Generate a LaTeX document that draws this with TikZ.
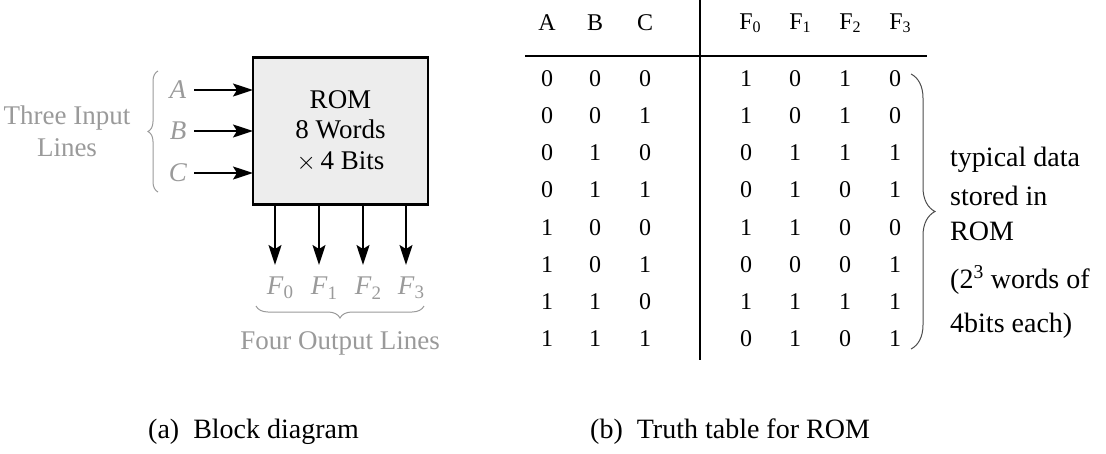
\documentclass[tikz,border=0pt]{standalone}
\usepackage{fontspec}
\setmainfont{Liberation Serif}
\usetikzlibrary{arrows.meta,decorations.pathreplacing}
\definecolor{lightgraytext}{HTML}{9A9A9A}
\definecolor{romfill}{HTML}{EDEDED}
\tikzset{
  big/.style={font=\fontsize{28}{32}\selectfont},
  graytxt/.style={text=lightgraytext, font=\fontsize{27}{32}\selectfont},
  inarrow/.style={line width=1.8pt, -{Stealth[length=20pt,width=13pt,inset=4pt]}},
  tcell/.style={font=\fontsize{24}{27}\selectfont, inner sep=0pt},
  rline/.style={line width=2.4pt},
}
\newcommand{\subz}[1]{\raisebox{-0.35ex}{\fontsize{19}{19}\selectfont #1}}
\newcommand{\subt}[1]{\raisebox{-0.3ex}{\fontsize{16}{16}\selectfont #1}}
\begin{document}
\begin{tikzpicture}[x=1pt,y=-1pt]
\useasboundingbox (0,0) rectangle (1106,453);
% ROM block
\node[draw, line width=2.8pt, fill=romfill, minimum width=175pt, minimum height=147pt, inner sep=0pt, align=center, font=\fontsize{27}{30.5}\selectfont] (rom) at (340.5,131) {ROM\\8 Words\\$\times$\,4 Bits};
% inputs
\foreach \n/\y in {A/90,B/131,C/173}{
  \coordinate (s\n) at (194,\y);
  \coordinate (e\n) at (253,\y);
  \draw[inarrow] (s\n) -- (e\n);
  \node[graytxt, inner sep=0pt] (l\n) at (178,\y) {\textit{\n}};
}
\draw[lightgraytext, line width=1pt, decorate, decoration={brace, amplitude=10pt}] (158,192) -- (158,71);
\node[graytxt, align=center, inner sep=0pt] (threein) at (67,131) {Three Input\\Lines};
% outputs
\foreach \i/\x in {0/275,1/319,2/363,3/406}{
  \coordinate (o\i) at (\x,205);
  \coordinate (p\i) at (\x,265);
  \draw[inarrow] (o\i) -- (p\i);
  \node[graytxt, inner sep=0pt] (f\i) at (\x+5,288) {\textit{F}\subz{\i}};
}
\draw[lightgraytext, line width=1pt, decorate, decoration={brace, amplitude=12pt}] (424,306) -- (256,306);
\node[graytxt, inner sep=0pt] (fourout) at (340,343) {Four Output Lines};
% truth table
\coordinate (vt) at (700,0);
\coordinate (vb) at (700,360);
\coordinate (hl) at (525,56);
\coordinate (hr) at (927,56);
\draw[rline] (vt) -- (vb);
\draw[rline] (hl) -- (hr);
\node[tcell] (hA) at (547,23) {A};
\node[tcell] (hB) at (595,23) {B};
\node[tcell] (hC) at (645,23) {C};
\node[tcell] (hF0) at (746,23) {F\rlap{\subt{0}}};
\node[tcell] (hF1) at (796,23) {F\rlap{\subt{1}}};
\node[tcell] (hF2) at (846,23) {F\rlap{\subt{2}}};
\node[tcell] (hF3) at (896,23) {F\rlap{\subt{3}}};
\foreach \r/\y/\a/\b/\c/\p/\q/\s/\t in {
  1/79/0/0/0/1/0/1/0,
  2/116/0/0/1/1/0/1/0,
  3/153/0/1/0/0/1/1/1,
  4/190/0/1/1/0/1/0/1,
  5/228/1/0/0/1/1/0/0,
  6/265/1/0/1/0/0/0/1,
  7/302/1/1/0/1/1/1/1,
  8/339/1/1/1/0/1/0/1}{
  \node[tcell] (a\r) at (547,\y) {\a};
  \node[tcell] (b\r) at (595,\y) {\b};
  \node[tcell] (c\r) at (645,\y) {\c};
  \node[tcell] (x\r) at (746,\y) {\p};
  \node[tcell] (y\r) at (795,\y) {\q};
  \node[tcell] (z\r) at (845,\y) {\s};
  \node[tcell] (w\r) at (895,\y) {\t};
}
\draw[black!70, line width=1pt, decorate, decoration={brace, amplitude=24pt}] (911,74) -- (911,349);
\node[big, anchor=west, inner sep=0pt] (t1) at (950,160) {typical data};
\node[big, anchor=west, inner sep=0pt] (t2) at (950,196) {stored in};
\node[big, anchor=west, inner sep=0pt] (t3) at (950,231) {ROM};
\node[big, anchor=west, inner sep=0pt] (t4) at (950,280) {(2\textsuperscript{3} words of};
\node[big, anchor=west, inner sep=0pt] (t5) at (950,326) {4bits each)};
% captions
\node[big, anchor=west, inner sep=0pt] (capa) at (148,432) {(a)\ \ Block diagram};
\node[big, anchor=west, inner sep=0pt] (capb) at (590,432) {(b)\ \ Truth table for ROM};
\end{tikzpicture}
\end{document}
